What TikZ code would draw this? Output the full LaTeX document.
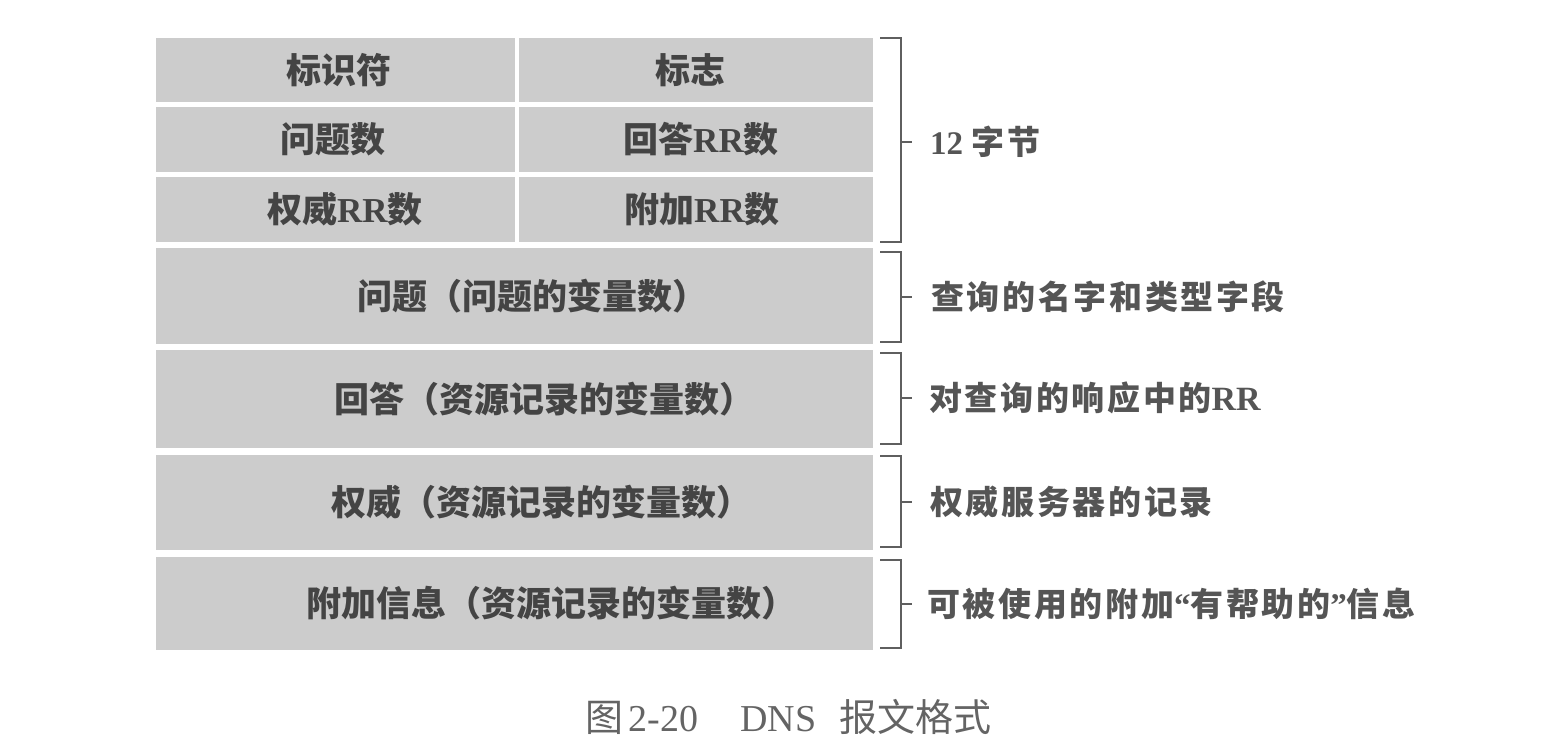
\documentclass[tikz,border=0pt]{standalone}
\usepackage{fontspec}
\setmainfont{Liberation Serif}
\newfontfamily\cjk{Noto Sans CJK SC}
\newfontfamily\cjkls[LetterSpace=8]{Noto Sans CJK SC}
\definecolor{cellgray}{RGB}{204,204,204}
\definecolor{txtgray}{RGB}{68,68,68}
\definecolor{lblgray}{RGB}{85,85,85}
\definecolor{capgray}{RGB}{100,100,100}
\definecolor{brgray}{RGB}{95,95,95}
\newcommand{\RR}{{\rmfamily\bfseries RR}}
\begin{document}
\begin{tikzpicture}[x=1pt,y=-1pt,
  cell/.style={fill=cellgray,draw=none,inner sep=0pt,anchor=center},
  celltext/.style={text=txtgray,inner sep=0pt,font=\fontsize{35}{40}\selectfont\cjk\bfseries},
  lbl/.style={text=lblgray,inner sep=0pt,anchor=west,font=\fontsize{33}{38}\selectfont\cjkls\bfseries},
  brk/.style={draw=brgray,line width=2.2pt,line cap=butt}]
\useasboundingbox (0,0) rectangle (1564,748);
% top three rows, two columns
\node[cell,minimum width=359pt,minimum height=64pt] (c11) at (335.5,70) {};
\node[cell,minimum width=354pt,minimum height=64pt] (c12) at (696,70) {};
\node[cell,minimum width=359pt,minimum height=65pt] (c21) at (335.5,139.5) {};
\node[cell,minimum width=354pt,minimum height=65pt] (c22) at (696,139.5) {};
\node[cell,minimum width=359pt,minimum height=65pt] (c31) at (335.5,209.5) {};
\node[cell,minimum width=354pt,minimum height=65pt] (c32) at (696,209.5) {};
% full-width rows
\node[cell,minimum width=717pt,minimum height=96pt] (r4) at (514.5,296) {};
\node[cell,minimum width=717pt,minimum height=98pt] (r5) at (514.5,399) {};
\node[cell,minimum width=717pt,minimum height=95pt] (r6) at (514.5,502.5) {};
\node[cell,minimum width=717pt,minimum height=93pt] (r7) at (514.5,603.5) {};
% cell texts
\node[celltext] (t11) at (339,70) {标识符};
\node[celltext] (t12) at (690,70) {标志};
\node[celltext] (t21) at (333,139.5) {问题数};
\node[celltext] (t22) at (701,139.5) {回答\RR 数};
\node[celltext] (t31) at (345,209.5) {权威\RR 数};
\node[celltext] (t32) at (702,209.5) {附加\RR 数};
\node[celltext,anchor=west] (t4) at (357,296) {问题（问题的变量数）};
\node[celltext,anchor=west] (t5) at (334,399) {回答（资源记录的变量数）};
\node[celltext,anchor=west] (t6) at (331,502.5) {权威（资源记录的变量数）};
\node[celltext,anchor=west] (t7) at (306,603.5) {附加信息（资源记录的变量数）};
% brackets
\foreach \n/\ya/\yb/\ym in {1/38/242/142, 2/252/342/297, 3/353/444/398, 4/456/547/502, 5/560/648/604}{
  \coordinate (bt\n) at (880,\ya);
  \coordinate (bb\n) at (880,\yb);
  \coordinate (bm\n) at (901,\ym);
  \coordinate (be\n) at (912,\ym);
  \draw[brk] (bt\n) -- (bt\n -| bm\n) -- (bb\n -| bm\n) -- (bb\n);
  \draw[brk] (bm\n) -- (be\n);
}
% labels
\node[lbl] (l1) at (930,142) {{\rmfamily\fontsize{33}{38}\selectfont 12}\hspace{0.25em}字节};
\node[lbl] (l2) at (931,297) {查询的名字和类型字段};
\node[lbl] (l3) at (929,398) {对查询的响应中的{\rmfamily\bfseries\fontsize{34}{38}\selectfont RR}};
\node[lbl] (l4) at (930,502) {权威服务器的记录};
\node[lbl] (l5) at (927,604) {可被使用的附加{\rmfamily\bfseries “}有帮助的{\rmfamily\bfseries ”}信息};
% caption
\node[text=capgray,inner sep=0pt,anchor=west,font=\fontsize{38}{42}\selectfont] (cap) at (585,717)
  {{\cjk 图}\hspace{0.15em}2-20\hspace{1.1em}DNS\hspace{0.6em}{\cjk 报文格式}};
\end{tikzpicture}
\end{document}
